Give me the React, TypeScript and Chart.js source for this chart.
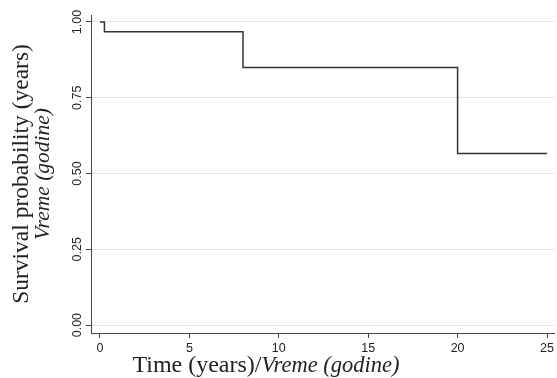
import React, { useEffect, useRef } from "react";
import { Chart, registerables } from "chart.js";

Chart.register(...registerables);

const times = [0, 0.25, 8, 20, 25];
const survival = [1, 0.968, 0.85, 0.566, 0.566];
const xTickValues = [0, 5, 10, 15, 20, 25];
const yTickValues = [0, 0.25, 0.5, 0.75, 1];
const yTitleLine1 = "Survival probability (years)";
const yTitleLine2 = "Vreme (godine)";
const xTitlePlain = "Time (years)/";
const xTitleItalic = "Vreme (godine)";

const SERIF = "'Liberation Serif', 'DejaVu Serif', serif";
const SANS = "'Liberation Sans', Arial, sans-serif";

const titlePlugin = {
  id: "customTitles",
  afterDraw(chart: any) {
    const ctx = chart.ctx;
    const area = chart.chartArea;
    const cy = (area.top + area.bottom) / 2;
    ctx.save();
    ctx.fillStyle = "#222";
    ctx.textBaseline = "middle";
    ctx.textAlign = "center";
    // y title
    ctx.save();
    ctx.translate(22, cy);
    ctx.rotate(-Math.PI / 2);
    ctx.font = `23.5px ${SERIF}`;
    ctx.fillText(yTitleLine1, 0, 0);
    ctx.restore();
    ctx.save();
    ctx.translate(43, cy);
    ctx.rotate(-Math.PI / 2);
    ctx.font = `italic 21.5px ${SERIF}`;
    ctx.fillText(yTitleLine2, 0, 0);
    ctx.restore();
    // x title
    ctx.textAlign = "left";
    ctx.textBaseline = "alphabetic";
    ctx.font = `24px ${SERIF}`;
    const w1 = ctx.measureText(xTitlePlain).width;
    ctx.font = `italic 22.5px ${SERIF}`;
    const w2 = ctx.measureText(xTitleItalic).width;
    const startX = 266 - (w1 + w2) / 2;
    ctx.font = `24px ${SERIF}`;
    ctx.fillText(xTitlePlain, startX, 372);
    ctx.font = `italic 22.5px ${SERIF}`;
    ctx.fillText(xTitleItalic, startX + w1, 372);
    ctx.restore();
  },
};

export default function App() {
  const ref = useRef<HTMLCanvasElement>(null);
  useEffect(() => {
    if (!ref.current) return;
    const chart = new Chart(ref.current, {
      type: "line",
      data: {
        datasets: [
          {
            data: times.map((t, i) => ({ x: t, y: survival[i] })),
            stepped: "before",
            borderColor: "#333",
            borderWidth: 1.5,
            pointRadius: 0,
            fill: false,
          },
        ],
      },
      options: {
        animation: false,
        responsive: false,
        events: [],
        layout: { padding: { top: 15, right: 2, left: 0, bottom: 0 } },
        plugins: { legend: { display: false }, tooltip: { enabled: false } },
        scales: {
          x: {
            type: "linear",
            min: -0.5,
            max: 25.4,
            afterBuildTicks: (s: any) => {
              s.ticks = xTickValues.map((v) => ({ value: v }));
            },
            afterFit: (s: any) => {
              s.height = 45;
            },
            grid: { drawOnChartArea: false, tickLength: 5, tickColor: "#444" },
            border: { color: "#444", width: 1 },
            ticks: {
              color: "#222",
              font: { family: SANS, size: 12.5 },
              padding: 3,
              maxRotation: 0,
              autoSkip: false,
              callback: (v: any) => String(v),
            },
          },
          y: {
            min: -0.026,
            max: 1.023,
            afterBuildTicks: (s: any) => {
              s.ticks = yTickValues.map((v) => ({ value: v }));
            },
            afterFit: (s: any) => {
              s.width = 91;
            },
            grid: { color: "#e6e6e6", tickLength: 5, tickColor: "#444", drawTicks: true },
            border: { color: "#444", width: 1 },
            ticks: {
              color: "#222",
              font: { family: SANS, size: 12.5 },
              minRotation: 90,
              maxRotation: 90,
              crossAlign: "center",
              padding: -4,
              autoSkip: false,
              callback: (v: any) => Number(v).toFixed(2),
            },
          },
        },
      },
      plugins: [titlePlugin],
    });
    return () => chart.destroy();
  }, []);
  return (
    <div style={{ position: "fixed", left: 0, top: 0, width: 557, height: 378, background: "#fff" }}>
      <canvas ref={ref} width={557} height={378} style={{ width: 557, height: 378 }} />
    </div>
  );
}
